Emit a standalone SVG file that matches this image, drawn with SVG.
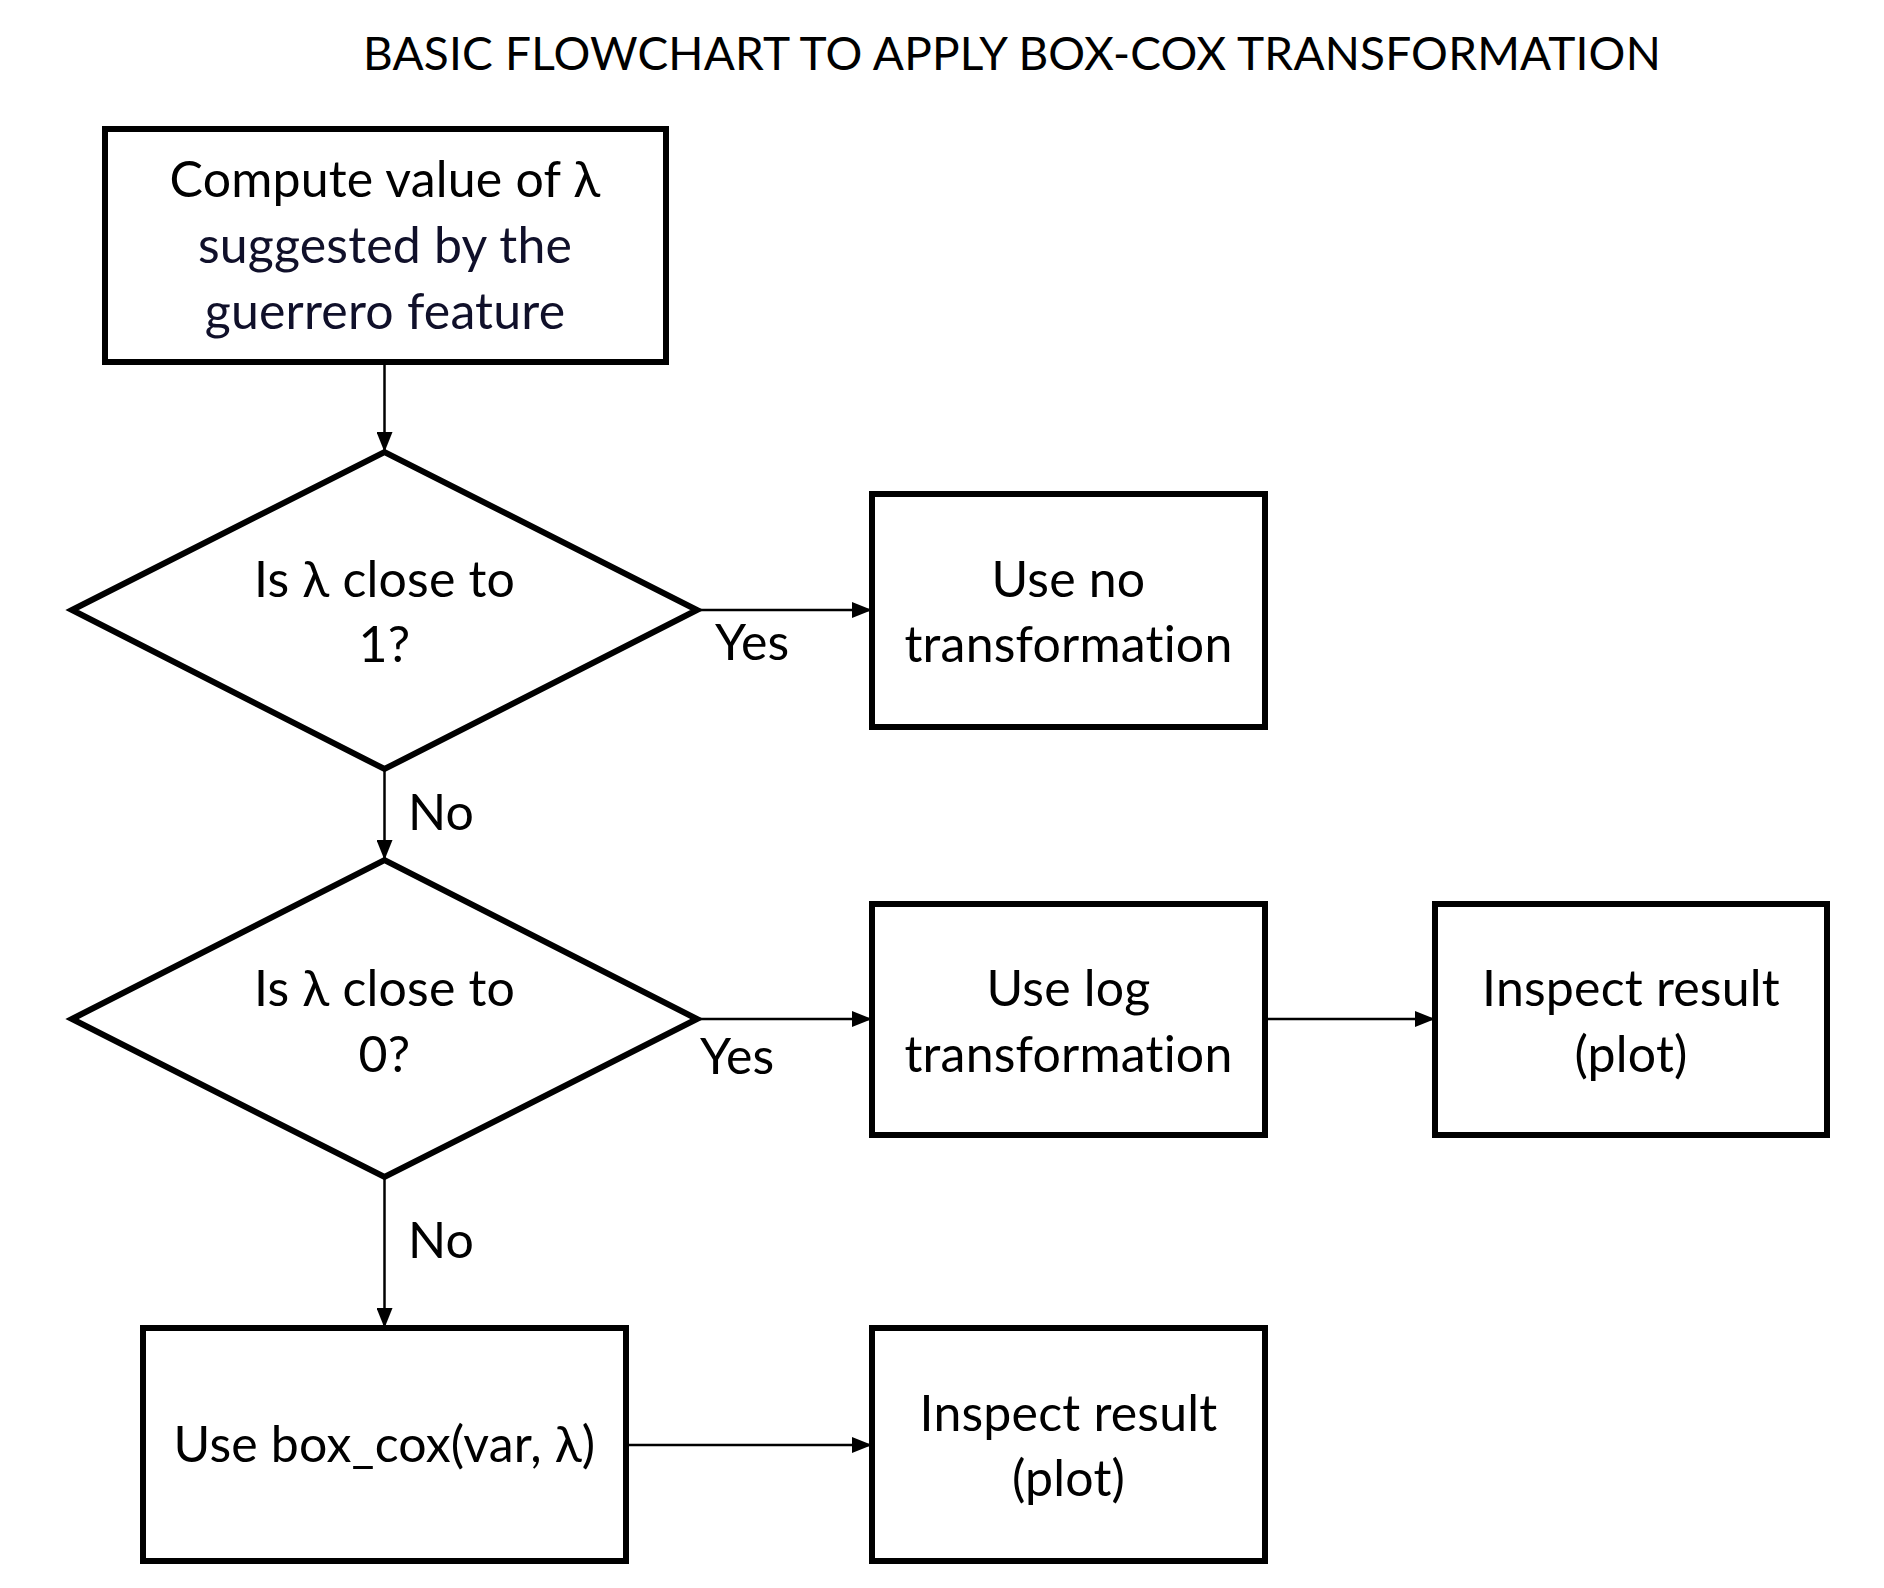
<svg xmlns="http://www.w3.org/2000/svg" width="1884" height="1588" viewBox="0 0 1884 1588">
<defs>
<marker id="ah" markerWidth="20" markerHeight="16" refX="20" refY="8" orient="auto" markerUnits="userSpaceOnUse">
<path d="M0,0 L20,8 L0,16 Z" fill="#000"/>
</marker>
</defs>
<style>
.box{fill:#fff;stroke:#000;stroke-width:6}
.t,.lbl{font-family:Lato,"Open Sans","Liberation Sans",sans-serif;font-size:50px;fill:#000;font-variant-ligatures:none;font-feature-settings:"liga" 0,"clig" 0,"dlig" 0,"calt" 0;letter-spacing:0.2px}
.t{text-anchor:middle}
.n{fill:#10102a}
.c{stroke:#000;stroke-width:2.5;fill:none;marker-end:url(#ah)}
</style>
<rect width="1884" height="1588" fill="#fff"/>
<text x="1012" y="70" class="t" style="font-size:46px">BASIC FLOWCHART TO APPLY BOX-COX TRANSFORMATION</text>
<g id="connectors">
<line class="c" x1="384.5" y1="362" x2="384.5" y2="452"/>
<line class="c" x1="697" y1="610" x2="872" y2="610"/>
<line class="c" x1="384.5" y1="769" x2="384.5" y2="860"/>
<line class="c" x1="697" y1="1019" x2="872" y2="1019"/>
<line class="c" x1="1265" y1="1019" x2="1435" y2="1019"/>
<line class="c" x1="384.5" y1="1177" x2="384.5" y2="1328"/>
<line class="c" x1="626" y1="1445" x2="872" y2="1445"/>
<text class="lbl" x="715" y="660">Yes</text>
<text class="lbl" x="408" y="830">No</text>
<text class="lbl" x="700" y="1074">Yes</text>
<text class="lbl" x="408" y="1258">No</text>
</g>
<g id="compute">
<rect class="box" x="105" y="129" width="561" height="233"/>
<text class="t" x="385" y="197">Compute value of λ</text>
<text class="t n" x="385" y="263">suggested by the</text>
<text class="t n" x="385" y="329">guerrero feature</text>
</g>
<g id="decision1">
<polygon class="box" points="72,610 384.5,452 697,610 384.5,769"/>
<text class="t" x="384.5" y="597">Is λ close to</text>
<text class="t" x="384.5" y="662">1?</text>
</g>
<g id="notransform">
<rect class="box" x="872" y="494" width="393" height="233"/>
<text class="t" x="1068.5" y="597">Use no</text>
<text class="t" x="1068.5" y="662">transformation</text>
</g>
<g id="decision2">
<polygon class="box" points="72,1019 384.5,860 697,1019 384.5,1177"/>
<text class="t" x="384.5" y="1006">Is λ close to</text>
<text class="t" x="384.5" y="1072">0?</text>
</g>
<g id="logtransform">
<rect class="box" x="872" y="904" width="393" height="231"/>
<text class="t" x="1068.5" y="1006">Use log</text>
<text class="t" x="1068.5" y="1072">transformation</text>
</g>
<g id="inspect1">
<rect class="box" x="1435" y="904" width="392" height="231"/>
<text class="t" x="1631" y="1006">Inspect result</text>
<text class="t" x="1631" y="1072">(plot)</text>
</g>
<g id="boxcox">
<rect class="box" x="143" y="1328" width="483" height="233"/>
<text class="t" x="384.5" y="1462">Use box_cox(var, λ)</text>
</g>
<g id="inspect2">
<rect class="box" x="872" y="1328" width="393" height="233"/>
<text class="t" x="1068.5" y="1431">Inspect result</text>
<text class="t" x="1068.5" y="1496">(plot)</text>
</g>
</svg>
